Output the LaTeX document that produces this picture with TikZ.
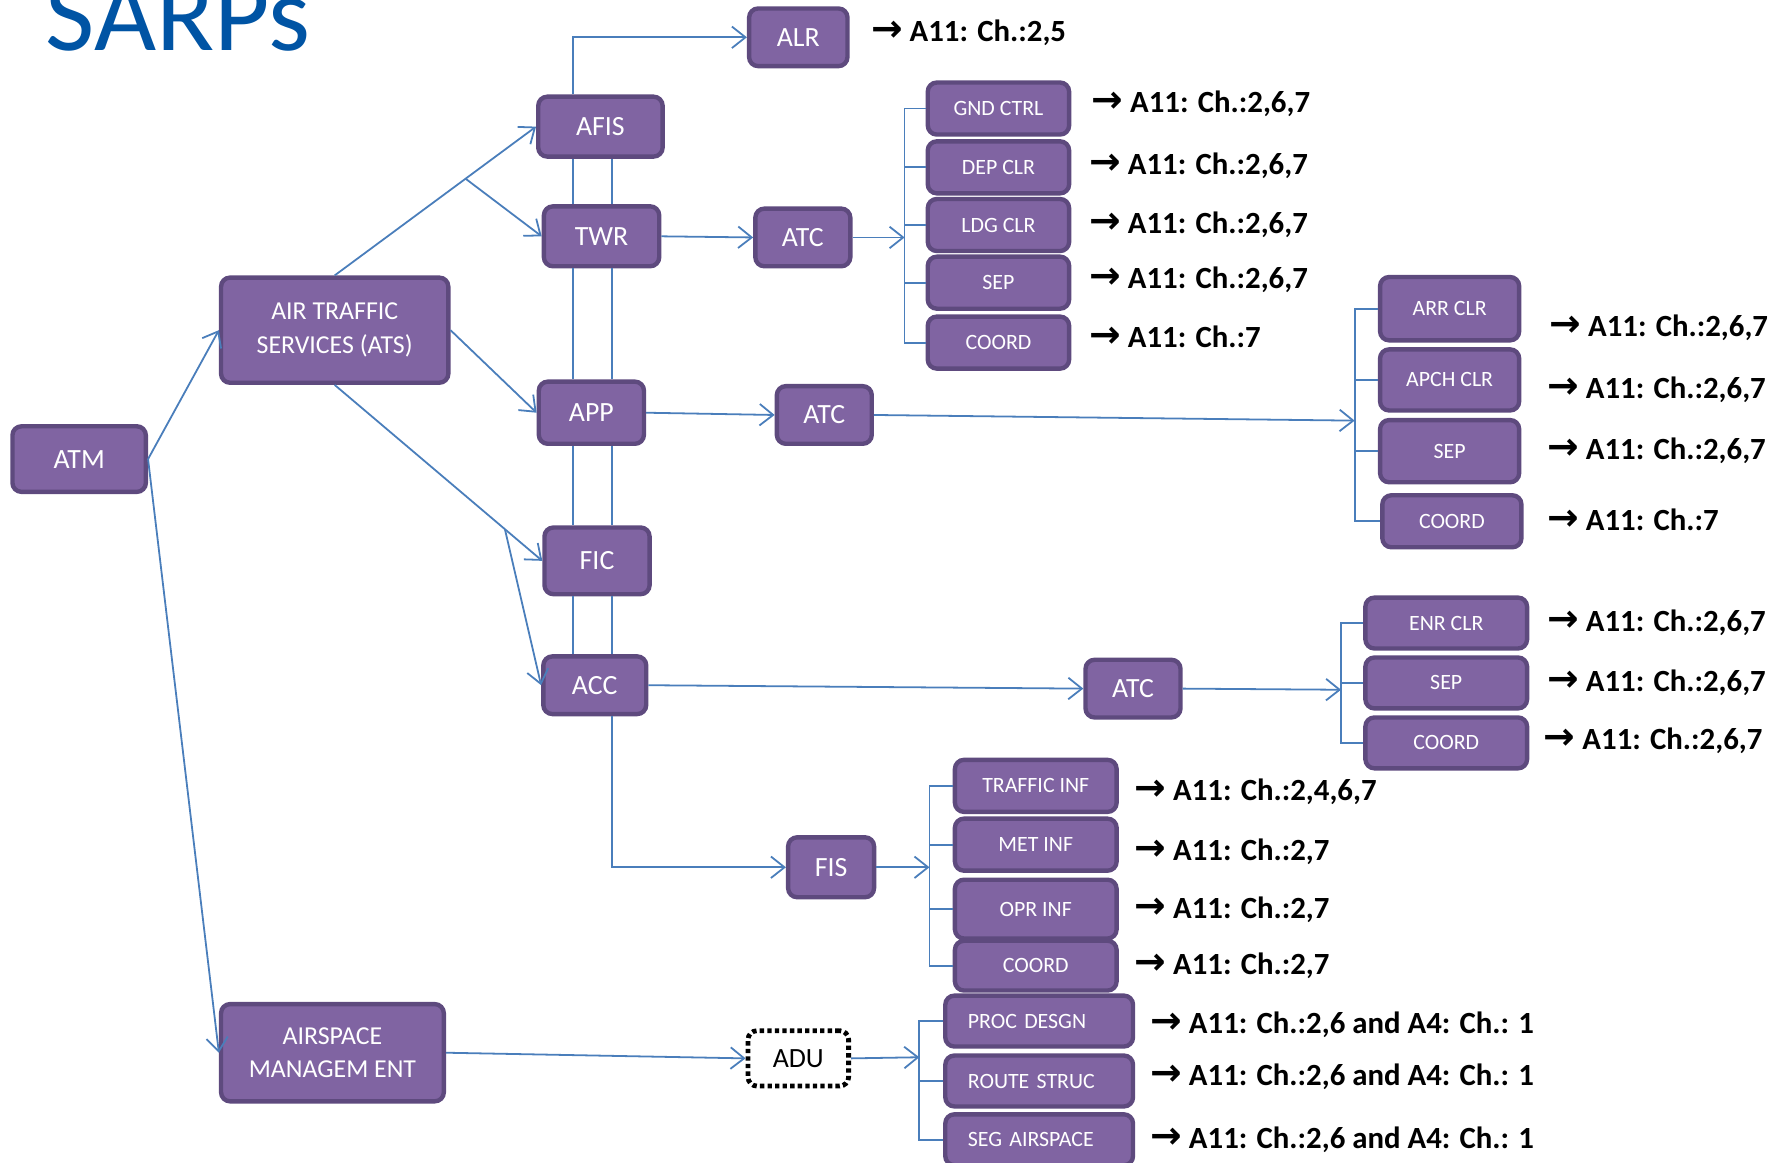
\documentclass[tikz,border=0pt]{standalone}
\usepackage{fontspec}
\setmainfont{Carlito}
\newfontfamily\arrowfont{DejaVu Sans}
\usetikzlibrary{arrows.meta,calc}
\definecolor{boxfill}{RGB}{128,100,162}
\definecolor{boxline}{RGB}{94,74,126}
\definecolor{linkblue}{RGB}{74,126,187}
\definecolor{titleblue}{RGB}{0,84,164}
\newcommand{\refarrow}{{\arrowfont\fontsize{19}{19}\selectfont →}}

\begin{document}
\begin{tikzpicture}[x=0.2mm,y=-0.2mm,
  box/.style={draw=boxline,fill=boxfill,line width=2.2pt,rounded corners=1.6mm,text=white,inner sep=0pt,align=center,font=\fontsize{14}{15}\selectfont},
  sub/.style={box,font=\fontsize{11}{12}\selectfont},
  dotbox/.style={draw=black,fill=white,line width=2.4pt,dash pattern=on 2.2pt off 1.6pt,rounded corners=1.6mm,inner sep=0pt,font=\fontsize{14}{15}\selectfont},
  ln/.style={draw=linkblue,line width=0.9pt},
  arr/.style={ln,-{Straight Barb[length=2.4mm,width=3.8mm]}},
  ref/.style={anchor=west,inner sep=0pt,font=\bfseries\fontsize{15.5}{17}\selectfont}]
\useasboundingbox (0,0) rectangle (1568,1028);

% title
\node[anchor=base west,inner sep=0pt,text=titleblue,font=\fontsize{54}{54}\selectfont] (title) at (40,45) {SARPs};

% main boxes
\node[box,minimum width=23.6mm,minimum height=11.6mm] (atm) at (70,406) {ATM};
\node[box,minimum width=40.2mm,minimum height=18.6mm,font=\fontsize{13}{17}\selectfont] (ats) at (296,292) {AIR TRAFFIC\\SERVICES (ATS)};
\node[box,minimum width=39.4mm,minimum height=17.2mm,font=\fontsize{13}{17}\selectfont] (asm) at (294,931) {AIRSPACE\\MANAGEM ENT};
\node[box,minimum width=22mm,minimum height=10.6mm] (afis) at (531,112) {AFIS};
\node[box,minimum width=20.4mm,minimum height=10.6mm] (twr) at (532,209) {TWR};
\node[box,minimum width=18.6mm,minimum height=11mm] (app) at (523,365) {APP};
\node[box,minimum width=18.6mm,minimum height=11.8mm] (fic) at (528,496) {FIC};
\node[box,minimum width=18.2mm,minimum height=10.2mm] (acc) at (526,606) {ACC};
\node[box,minimum width=17.4mm,minimum height=10.2mm] (alr) at (706,33) {ALR};
\node[box,minimum width=16.8mm,minimum height=10.2mm] (atctwr) at (710,210) {ATC};
\node[box,minimum width=16.8mm,minimum height=10.2mm] (atcapp) at (729,367) {ATC};
\node[box,minimum width=16.8mm,minimum height=10.2mm] (atcacc) at (1002,609) {ATC};
\node[box,minimum width=15.2mm,minimum height=10.6mm] (fis) at (735,767) {FIS};
\node[dotbox,minimum width=17.8mm,minimum height=9.8mm] (adu) at (706,936) {ADU};

% TWR services
\node[sub,minimum width=25mm,minimum height=9.2mm] (gnd) at (883,96) {GND CTRL};
\node[sub,minimum width=25mm,minimum height=9.2mm] (dep) at (883,148) {DEP CLR};
\node[sub,minimum width=25mm,minimum height=9.2mm] (ldg) at (883,199) {LDG CLR};
\node[sub,minimum width=25mm,minimum height=9.2mm] (septwr) at (883,250) {SEP};
\node[sub,minimum width=25mm,minimum height=9.2mm] (crdtwr) at (883,303) {COORD};

% APP services
\node[sub,minimum width=24.6mm,minimum height=11.2mm] (arr) at (1282,273) {ARR CLR};
\node[sub,minimum width=24.6mm,minimum height=10.8mm] (apch) at (1282,336) {APCH CLR};
\node[sub,minimum width=24.6mm,minimum height=11mm] (sepapp) at (1282,399) {SEP};
\node[sub,minimum width=24.6mm,minimum height=9.2mm] (crdapp) at (1284,461) {COORD};

% ACC services
\node[sub,minimum width=28.6mm,minimum height=9mm] (enr) at (1279,551) {ENR CLR};
\node[sub,minimum width=28.6mm,minimum height=9mm] (sepacc) at (1279,604) {SEP};
\node[sub,minimum width=28.6mm,minimum height=9mm] (crdacc) at (1279,657) {COORD};

% FIS services
\node[sub,minimum width=28.6mm,minimum height=9.2mm] (trf) at (916,695) {TRAFFIC INF};
\node[sub,minimum width=28.6mm,minimum height=9.2mm] (met) at (916,747) {MET INF};
\node[sub,minimum width=28.6mm,minimum height=10.4mm] (opr) at (916,804) {OPR INF};
\node[sub,minimum width=28.6mm,minimum height=8.8mm] (crdfis) at (916,854) {COORD};

% ADU services
\node[sub,text width=25.2mm,inner xsep=4mm,align=left,minimum height=9mm] (proc) at (919,903) {PROC DESGN};
\node[sub,text width=25.2mm,inner xsep=4mm,align=left,minimum height=9mm] (route) at (919,956) {ROUTE STRUC};
\node[sub,text width=25.2mm,inner xsep=4mm,align=left,minimum height=9mm] (seg) at (919,1008) {SEG AIRSPACE};

% rails between the units
\coordinate (railL) at (507,0);
\coordinate (railR) at (541,0);
\foreach \a/\b in {afis/twr,twr/app,app/fic,fic/acc}{
  \draw[ln] (\a.south -| railL) -- (\b.north -| railL);
  \draw[ln] (\a.south -| railR) -- (\b.north -| railR);
}

% links
\draw[arr] (atm.east) -- (ats.west);
\draw[arr] (atm.east) -- (asm.west);
\draw[arr] (ats.north) -- (afis.west);
\coordinate (splitA) at ($(ats.north)!0.65!(afis.west)$);
\draw[arr] (splitA) -- (twr.west);
\draw[arr] (ats.east) -- (app.west);
\draw[arr] (ats.south) -- (fic.west);
\coordinate (splitF) at ($(ats.south)!0.82!(fic.west)$);
\draw[arr] (splitF) -- (acc.west);
\draw[arr] (afis.north -| railL) |- (alr.west);
\draw[arr] (twr.east) -- (atctwr.west);
\draw[arr] (app.east) -- (atcapp.west);
\draw[arr] (acc.east) -- (atcacc.west);
\draw[arr] (acc.south -| railR) |- (fis.west);
\draw[arr] (asm.east) -- (adu.west);

% brackets
\coordinate (brtwr) at (800,210);
\draw[arr] (atctwr.east) -- (brtwr);
\draw[ln] (gnd.west) -- (gnd.west -| brtwr) -- (crdtwr.west -| brtwr) -- (crdtwr.west);
\foreach \n in {dep,ldg,septwr} \draw[ln] (\n.west) -- (\n.west -| brtwr);

\coordinate (brapp) at (1198,372);
\draw[arr] (atcapp.east) -- (brapp);
\draw[ln] (arr.west) -- (arr.west -| brapp) -- (crdapp.west -| brapp) -- (crdapp.west);
\foreach \n in {apch,sepapp} \draw[ln] (\n.west) -- (\n.west -| brapp);

\coordinate (bracc) at (1186,610);
\draw[arr] (atcacc.east) -- (bracc);
\draw[ln] (enr.west) -- (enr.west -| bracc) -- (crdacc.west -| bracc) -- (crdacc.west);
\draw[ln] (sepacc.west) -- (sepacc.west -| bracc);

\coordinate (brfis) at (822,767);
\draw[arr] (fis.east) -- (brfis);
\draw[ln] (trf.west) -- (trf.west -| brfis) -- (crdfis.west -| brfis) -- (crdfis.west);
\foreach \n in {met,opr} \draw[ln] (\n.west) -- (\n.west -| brfis);

\coordinate (bradu) at (813,935);
\draw[arr] (adu.east) -- (bradu);
\draw[ln] (proc.west) -- (proc.west -| bradu) -- (seg.west -| bradu) -- (seg.west);
\draw[ln] (route.west) -- (route.west -| bradu);

% references
\node[ref] (ralr) at (770,29) {\refarrow{} A11: Ch.:2,5};
\node[ref] (rgnd) at (965,92) {\refarrow{} A11: Ch.:2,6,7};
\node[ref] (rdep) at (963,147) {\refarrow{} A11: Ch.:2,6,7};
\node[ref] (rldg) at (963,199) {\refarrow{} A11: Ch.:2,6,7};
\node[ref] (rseptwr) at (963,247) {\refarrow{} A11: Ch.:2,6,7};
\node[ref] (rcrdtwr) at (963,298) {\refarrow{} A11: Ch.:7};
\node[ref] (rarr) at (1370,290) {\refarrow{} A11: Ch.:2,6,7};
\node[ref] (rapch) at (1368,345) {\refarrow{} A11: Ch.:2,6,7};
\node[ref] (rsepapp) at (1368,399) {\refarrow{} A11: Ch.:2,6,7};
\node[ref] (rcrdapp) at (1368,460) {\refarrow{} A11: Ch.:7};
\node[ref] (renr) at (1368,551) {\refarrow{} A11: Ch.:2,6,7};
\node[ref] (rsepacc) at (1368,604) {\refarrow{} A11: Ch.:2,6,7};
\node[ref] (rcrdacc) at (1365,655) {\refarrow{} A11: Ch.:2,6,7};
\node[ref] (rtrf) at (1003,700) {\refarrow{} A11: Ch.:2,4,6,7};
\node[ref] (rmet) at (1003,753) {\refarrow{} A11: Ch.:2,7};
\node[ref] (ropr) at (1003,805) {\refarrow{} A11: Ch.:2,7};
\node[ref] (rcrdfis) at (1003,854) {\refarrow{} A11: Ch.:2,7};
\node[ref] (rproc) at (1017,906) {\refarrow{} A11: Ch.:2,6 and A4: Ch.: 1};
\node[ref] (rroute) at (1017,952) {\refarrow{} A11: Ch.:2,6 and A4: Ch.: 1};
\node[ref] (rseg) at (1017,1008) {\refarrow{} A11: Ch.:2,6 and A4: Ch.: 1};
\end{tikzpicture}
\end{document}
